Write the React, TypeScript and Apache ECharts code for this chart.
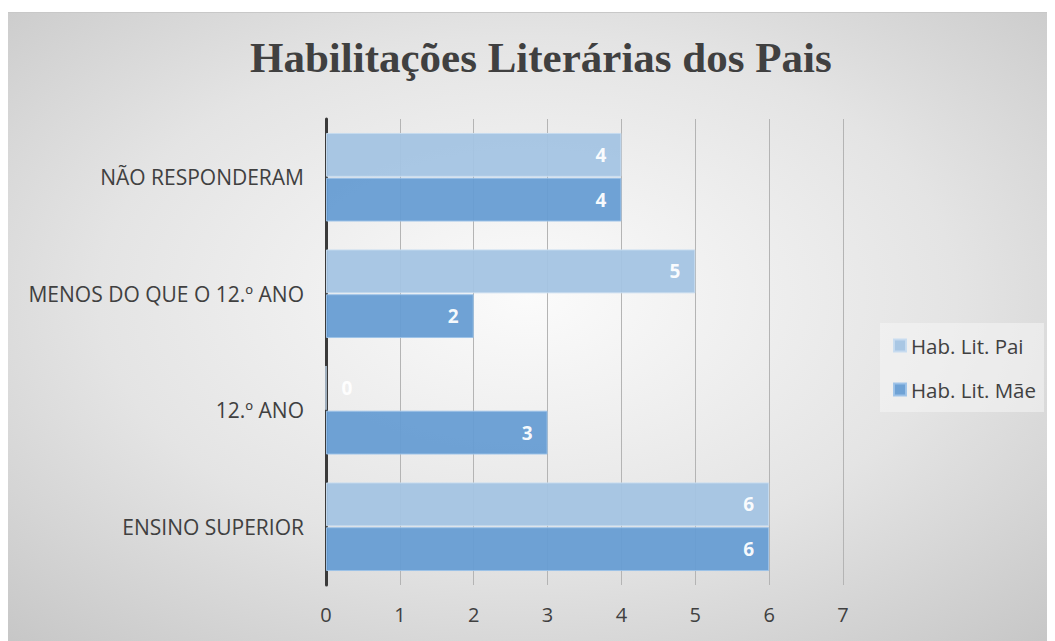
import React, { useEffect, useRef } from "react";
import * as echarts from "echarts";

const categories = ["ENSINO SUPERIOR", "12.º ANO", "MENOS DO QUE O 12.º ANO", "NÃO RESPONDERAM"];
const paiValues = [6, 0, 5, 4];
const maeValues = [6, 3, 2, 4];
const seriesNames = ["Hab. Lit. Pai", "Hab. Lit. Mãe"];
const xTicks = [0, 1, 2, 3, 4, 5, 6, 7];

export default function App() {
  const ref = useRef<HTMLDivElement>(null);
  useEffect(() => {
    const chart = echarts.init(ref.current!, null, { renderer: "svg" });
    const labelBase = {
      show: true,
      position: "insideRight",
      distance: 15,
      color: "#ffffff",
      fontWeight: "bold",
      fontSize: 19,
      fontFamily: "Open Sans",
    };
    chart.setOption({
      animation: false,
      backgroundColor: {
        type: "radial",
        x: 0.5,
        y: 0.45,
        r: 0.75,
        colorStops: [
          { offset: 0, color: "#fbfbfb" },
          { offset: 0.55, color: "#e4e4e4" },
          { offset: 1, color: "#c6c6c6" },
        ],
      },
      title: {
        text: "Habilitações Literárias dos Pais",
        left: 237,
        top: 18,
        textStyle: {
          fontFamily: "Liberation Serif",
          fontWeight: "bold",
          fontSize: 43,
          color: "#404040",
        },
      },
      legend: {
        data: seriesNames,
        orient: "vertical",
        left: 872,
        top: 310,
        itemWidth: 12,
        itemHeight: 12,
        itemGap: 23,
        padding: [12, 8, 12, 13],
        backgroundColor: "rgba(245,245,245,0.55)",
        icon: "rect",
        textStyle: { fontFamily: "Open Sans", fontSize: 20.5, color: "#404040" },
      },
      grid: { left: 318, right: 204, top: 106, bottom: 57, containLabel: false },
      xAxis: {
        type: "value",
        min: 0,
        max: 7,
        interval: 1,
        axisLine: { show: false },
        axisTick: { show: false },
        splitLine: { show: true, lineStyle: { color: "#b4b4b4", width: 1 } },
        axisLabel: {
          margin: 19,
          fontFamily: "Open Sans",
          fontSize: 20,
          color: "#404040",
          formatter: (v: number) => (xTicks.includes(v) ? String(v) : ""),
        },
      },
      yAxis: {
        type: "category",
        data: categories,
        axisLine: { show: true, lineStyle: { color: "#3a3a3a", width: 3 } },
        axisTick: { show: false },
        axisLabel: {
          margin: 22,
          fontFamily: "Open Sans",
          fontSize: 21,
          color: "#404040",
        },
      },
      series: [
        {
          name: seriesNames[0],
          type: "bar",
          data: paiValues.map((v) =>
            v === 0 ? { value: v, label: { position: "right", distance: 15 } } : v
          ),
          barGap: "2%",
          barCategoryGap: "24%",
          itemStyle: { color: "#a4c4e3", borderColor: "#c6dbef", borderWidth: 1, opacity: 0.95 },
          label: labelBase,
          z: 2,
        },
        {
          name: seriesNames[1],
          type: "bar",
          data: maeValues,
          barGap: "2%",
          barCategoryGap: "24%",
          itemStyle: { color: "#679dd3", borderColor: "#9cc2e8", borderWidth: 1, opacity: 0.95 },
          label: labelBase,
          z: 2,
        },
      ],
    });
    return () => chart.dispose();
  }, []);
  return (
    <div
      ref={ref}
      style={{ width: 1039, height: 629, marginTop: 4, borderTop: "1px solid #c8c8c8" }}
    />
  );
}
